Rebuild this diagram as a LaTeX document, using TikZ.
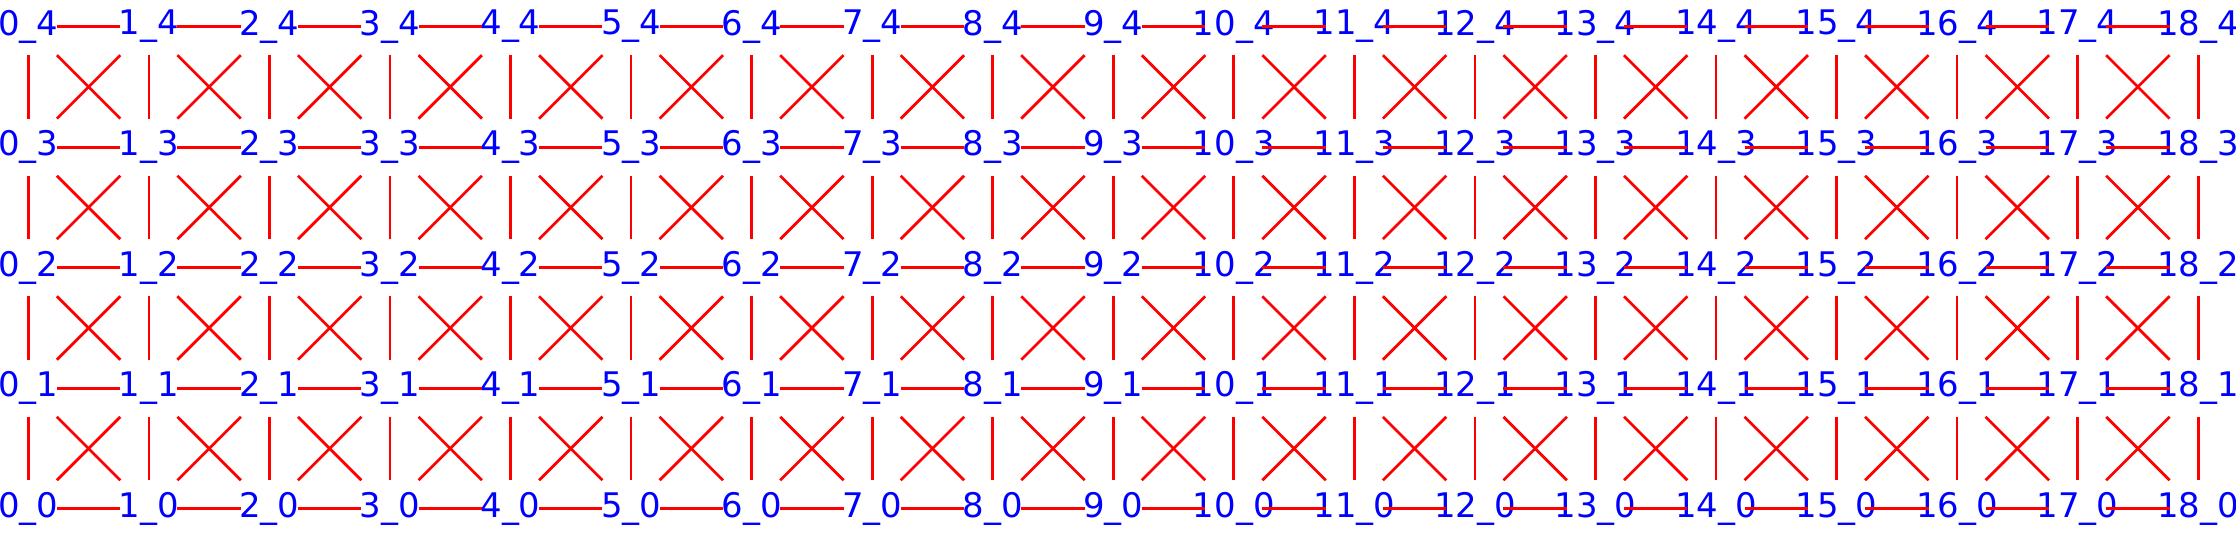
\documentclass[tikz,border=0pt]{standalone}
\usepackage{fontspec}
\setsansfont{DejaVu Sans}
\tikzset{
	vert/.style={rectangle, minimum size=0.46cm, inner sep=0pt},
	lbl/.style={blue, inner sep=0pt, font=\sffamily\fontsize{8}{8}\selectfont},
	edge/.style={red, line width=0.64pt},
}
\begin{document}
\begin{tikzpicture}
	\useasboundingbox (-0.235,-0.230) rectangle (18.314,4.221);
	\foreach \i in {0,...,18}
		\foreach \j in {0,...,4}
			\node[vert, label={[lbl]center:\i\_\j}] (v\i-\j) at (\i,\j) {};

	\foreach \i in {0,...,18}
		\foreach \j in {0,...,4} {
			\pgfmathtruncatemacro{\k}{\i+1}
			\pgfmathtruncatemacro{\l}{\j+1}
			\ifnum\i<18 \draw[edge] (v\i-\j) -- (v\k-\j); \fi
			\ifnum\j<4 \draw[edge] (v\i-\j) -- (v\i-\l); \fi
			\ifnum\i<18 \ifnum\j<4
				\draw[edge] (v\i-\j) -- (v\k-\l);
				\draw[edge] (v\i-\l) -- (v\k-\j);
			\fi \fi
		}
\end{tikzpicture}
\end{document}
